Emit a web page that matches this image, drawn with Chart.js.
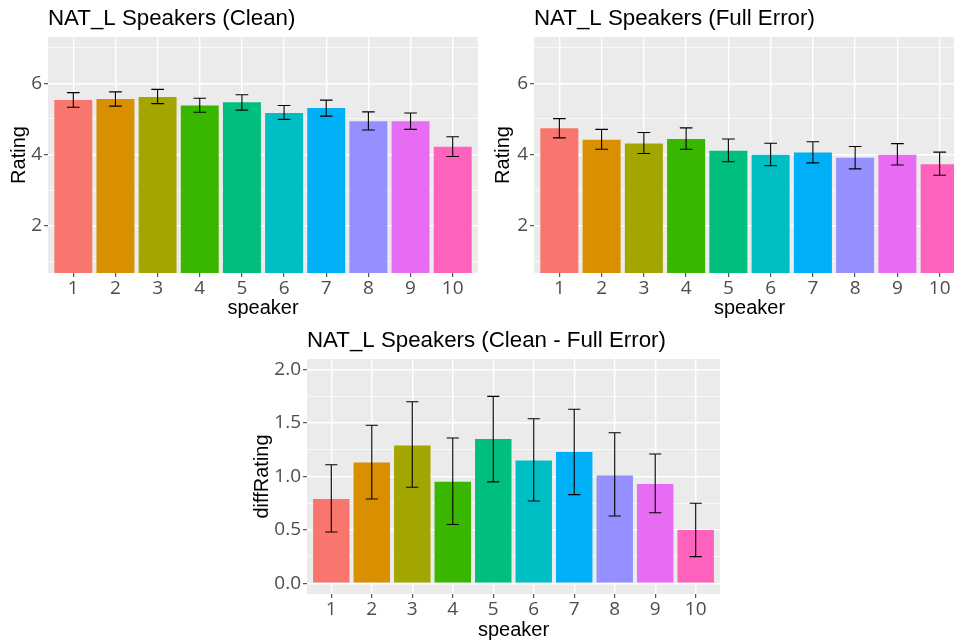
<!DOCTYPE html>
<html>
<head>
<meta charset="utf-8">
<script src="https://cdn.jsdelivr.net/npm/chart.js@4.4.1/dist/chart.umd.min.js"></script>
<style>
  html, body { margin: 0; padding: 0; background: #fff; width: 954px; height: 643px; overflow: hidden; position: relative; }
  canvas { position: absolute; }
</style>
</head>
<body>
<canvas id="chart_clean" width="480" height="320" style="left:0;top:0"></canvas>
<canvas id="chart_full" width="490" height="320" style="left:480px;top:0"></canvas>
<canvas id="chart_diff" width="484" height="323" style="left:240px;top:320px"></canvas>
<script>
// data
var speakers = ['1', '2', '3', '4', '5', '6', '7', '8', '9', '10'];
var barColors = ['#F8766D', '#D89000', '#A3A500', '#39B600', '#00BF7D', '#00BFC4', '#00B0F6', '#9590FF', '#E76BF3', '#FF62BC'];

var cleanRating = [5.53, 5.56, 5.62, 5.38, 5.47, 5.17, 5.31, 4.94, 4.94, 4.22];
var cleanLower  = [5.33, 5.36, 5.43, 5.19, 5.25, 4.99, 5.08, 4.69, 4.71, 3.95];
var cleanUpper  = [5.74, 5.76, 5.83, 5.58, 5.68, 5.38, 5.53, 5.20, 5.17, 4.50];

var fullRating = [4.74, 4.42, 4.31, 4.44, 4.11, 4.00, 4.06, 3.91, 4.00, 3.73];
var fullLower  = [4.47, 4.15, 4.03, 4.15, 3.80, 3.69, 3.77, 3.60, 3.71, 3.42];
var fullUpper  = [5.01, 4.71, 4.62, 4.75, 4.44, 4.32, 4.36, 4.23, 4.31, 4.07];

var diffRating = [0.79, 1.13, 1.29, 0.95, 1.35, 1.15, 1.23, 1.01, 0.93, 0.50];
var diffLower  = [0.48, 0.79, 0.90, 0.55, 0.95, 0.77, 0.83, 0.63, 0.66, 0.25];
var diffUpper  = [1.11, 1.48, 1.70, 1.36, 1.75, 1.54, 1.63, 1.41, 1.21, 0.75];

var ratingBreaks = [2, 4, 6];
var ratingMinor = [1, 3, 5, 7];
var diffBreaks = [0, 0.5, 1, 1.5, 2];
var diffMinor = [0.25, 0.75, 1.25, 1.75];

/**
 * @name ggplot look
 * @function grey panel, title at panel left, error bars
 */
var panelBg = {
  id: 'panelBg',
  beforeDraw: function(chart) {
    var a = chart.chartArea;
    chart.ctx.save();
    chart.ctx.fillStyle = '#EBEBEB';
    chart.ctx.fillRect(a.left, a.top, a.right - a.left, a.bottom - a.top);
    chart.ctx.restore();
  }
};

var ggTitle = {
  id: 'ggTitle',
  afterDraw: function(chart, args, opts) {
    var ctx = chart.ctx;
    ctx.save();
    ctx.fillStyle = '#000';
    ctx.font = opts.size + 'px "Liberation Sans", Arial, sans-serif';
    ctx.textBaseline = 'middle';
    ctx.textAlign = 'left';
    ctx.fillText(opts.text, chart.chartArea.left, opts.y);
    ctx.restore();
  }
};

var errorBars = {
  id: 'errorBars',
  afterDatasetsDraw: function(chart, args, opts) {
    var ctx = chart.ctx, x = chart.scales.x, y = chart.scales.y;
    var half = x.getPixelForValue(1.15) - x.getPixelForValue(1); // cap width 0.3
    ctx.save();
    ctx.strokeStyle = '#000';
    ctx.lineWidth = 1.1;
    opts.lower.forEach(function(lo, i) {
      var px = x.getPixelForValue(i + 1);
      var top = y.getPixelForValue(opts.upper[i]);
      var bot = y.getPixelForValue(lo);
      ctx.beginPath();
      ctx.moveTo(px, top); ctx.lineTo(px, bot);
      ctx.moveTo(px - half, top); ctx.lineTo(px + half, top);
      ctx.moveTo(px - half, bot); ctx.lineTo(px + half, bot);
      ctx.stroke();
    });
    ctx.restore();
  }
};

function ggChart(id, cfg) {
  var allY = cfg.breaks.concat(cfg.minor).sort(function(a, b) { return a - b; });
  var isMajor = function(v) { return cfg.breaks.indexOf(v) !== -1; };
  return new Chart(document.getElementById(id), {
    type: 'bar',
    data: {
      datasets: [{
        data: cfg.values.map(function(v, i) { return { x: i + 1, y: v }; }),
        backgroundColor: barColors,
        borderWidth: 0,
        barPercentage: 0.9,
        categoryPercentage: 1
      }]
    },
    options: {
      responsive: false,
      animation: false,
      layout: { padding: cfg.padding },
      plugins: {
        legend: { display: false },
        tooltip: { enabled: false },
        ggTitle: { text: cfg.title, y: cfg.titleY, size: cfg.titleSize },
        errorBars: { lower: cfg.lower, upper: cfg.upper }
      },
      scales: {
        x: {
          type: 'linear',
          offset: false,
          min: 0.4,
          max: 10.6,
          afterBuildTicks: function(axis) {
            axis.ticks = speakers.map(function(s, i) { return { value: i + 1 }; });
          },
          afterFit: function(axis) { axis.height = cfg.xHeight; },
          ticks: {
            autoSkip: false,
            maxRotation: 0,
            padding: 0,
            color: '#4D4D4D',
            font: { family: '"Open Sans", sans-serif', size: cfg.tickSize },
            callback: function(v) { return speakers[v - 1]; }
          },
          grid: { offset: false, color: '#FFFFFF', lineWidth: 1.4, tickColor: '#333333', tickLength: 4, tickWidth: 1 },
          border: { display: false },
          title: {
            display: true,
            text: 'speaker',
            color: '#000',
            font: { family: '"Liberation Sans", Arial, sans-serif', size: 20 },
            padding: { top: 0, bottom: cfg.xTitlePad }
          }
        },
        y: {
          min: cfg.yMin,
          max: cfg.yMax,
          afterBuildTicks: function(axis) {
            axis.ticks = allY.map(function(v) { return { value: v }; });
          },
          afterFit: function(axis) { axis.width = cfg.yWidth; },
          ticks: {
            autoSkip: false,
            padding: 2,
            color: '#4D4D4D',
            font: { family: '"Open Sans", sans-serif', size: cfg.tickSize },
            callback: function(v) { return isMajor(v) ? cfg.fmt(v) : ''; }
          },
          grid: {
            color: '#FFFFFF',
            lineWidth: function(c) { return c.tick && isMajor(c.tick.value) ? 1.4 : 0.7; },
            tickColor: function(c) { return c.tick && isMajor(c.tick.value) ? '#333333' : 'rgba(0,0,0,0)'; },
            tickLength: 4,
            tickWidth: 1
          },
          border: { display: false },
          title: {
            display: true,
            text: cfg.yTitle,
            color: '#000',
            font: { family: '"Liberation Sans", Arial, sans-serif', size: 20 },
            padding: { top: cfg.yTitlePad, bottom: 0 }
          }
        }
      }
    },
    plugins: [panelBg, ggTitle, errorBars]
  });
}

var intFmt = function(v) { return String(v); };
var oneDec = function(v) { return v.toFixed(1); };

ggChart('chart_clean', {
  title: 'NAT_L Speakers (Clean)', titleY: 19, titleSize: 22.3,
  values: cleanRating, lower: cleanLower, upper: cleanUpper,
  yMin: 0.68, yMax: 7.3, breaks: ratingBreaks, minor: ratingMinor, fmt: intFmt,
  yTitle: 'Rating', yTitlePad: 7, xTitlePad: 0, tickSize: 19,
  padding: { top: 37, right: 2, bottom: 0, left: 0 }, yWidth: 48, xHeight: 47
});

ggChart('chart_full', {
  title: 'NAT_L Speakers (Full Error)', titleY: 19, titleSize: 22.3,
  values: fullRating, lower: fullLower, upper: fullUpper,
  yMin: 0.68, yMax: 7.3, breaks: ratingBreaks, minor: ratingMinor, fmt: intFmt,
  yTitle: 'Rating', yTitlePad: 11, xTitlePad: 0, tickSize: 19,
  padding: { top: 37, right: 5, bottom: 0, left: 0 }, yWidth: 54, xHeight: 47
});

ggChart('chart_diff', {
  title: 'NAT_L Speakers (Clean - Full Error)', titleY: 21, titleSize: 22.3,
  values: diffRating, lower: diffLower, upper: diffUpper,
  yMin: -0.1, yMax: 2.1, breaks: diffBreaks, minor: diffMinor, fmt: oneDec,
  yTitle: 'diffRating', yTitlePad: 10, xTitlePad: 1, tickSize: 19,
  padding: { top: 39, right: 4, bottom: 0, left: 0 }, yWidth: 67, xHeight: 49
});
</script>
</body>
</html>
